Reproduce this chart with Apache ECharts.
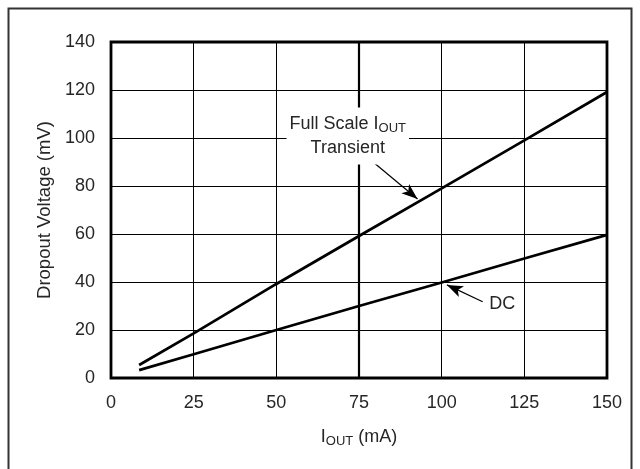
<!DOCTYPE html>
<html><head><meta charset="utf-8">
<script src="https://cdn.jsdelivr.net/npm/echarts@6/dist/echarts.min.js"></script>
<style>html,body{margin:0;padding:0;background:#fff}#c{width:640px;height:469px}</style>
</head><body><div id="c"></div>
<script>
const iout = [8.5, 25, 50, 75, 100, 125, 150];
const transient = [5.4, 18.6, 39.2, 59.2, 79, 99, 119.2];
const dc = [3.3, 9.9, 20, 30, 39.8, 49.8, 59.6];
const xTicks = [0, 25, 50, 75, 100, 125, 150];
const yTicks = [0, 20, 40, 60, 80, 100, 120, 140];
const FONT = 'Liberation Sans, Arial, sans-serif';
const TXT = '#262626';
const FS = 18;

const chart = echarts.init(document.getElementById('c'), null, {renderer: 'canvas'});
const option = {
  animation: false,
  backgroundColor: '#fff',
  textStyle: {fontFamily: FONT},
  grid: {left: 111, right: 33, top: 42, bottom: 91, show: true, borderColor: '#000', borderWidth: 2.8, backgroundColor: 'transparent'},
  graphic: [{
    type: 'rect', shape: {x: 8.5, y: 8.5, width: 623, height: 480},
    style: {fill: 'none', stroke: '#333', lineWidth: 2}, silent: true, z: 0
  }],
  xAxis: {
    type: 'value', min: xTicks[0], max: xTicks[xTicks.length - 1], interval: 25,
    axisLine: {show: false}, axisTick: {show: false},
    axisLabel: {fontSize: FS, color: TXT, margin: 16, fontFamily: FONT},
    splitLine: {show: true, lineStyle: {color: '#000', width: 1}},
    name: '{a|I}{s|OUT}{a| (mA)}', nameLocation: 'middle', nameGap: 48,
    nameTextStyle: {rich: {
      a: {fontSize: FS, color: TXT, fontFamily: FONT},
      s: {fontSize: 13, color: TXT, fontFamily: FONT, padding: [9, 0, 0, 0]}
    }}
  },
  yAxis: {
    type: 'value', min: yTicks[0], max: yTicks[yTicks.length - 1], interval: 20,
    axisLine: {show: false}, axisTick: {show: false},
    axisLabel: {fontSize: FS, color: TXT, margin: 16, fontFamily: FONT},
    splitLine: {show: true, lineStyle: {color: '#000', width: 1}},
    name: 'Dropout Voltage (mV)', nameLocation: 'middle', nameGap: 46,
    nameTextStyle: {fontSize: 18.5, color: TXT, fontFamily: FONT}
  },
  series: [
    {
      type: 'line', data: iout.map((x, i) => [x, transient[i]]), symbol: 'none',
      lineStyle: {color: '#000', width: 2.8}, z: 3, silent: true,
      markLine: {
        silent: true, symbol: ['none', 'arrow'], symbolSize: [9, 16],
        lineStyle: {color: '#000', width: 1.2, type: 'solid'}, label: {show: false},
        data: [
          [{coord: [78.8, 90.5]}, {coord: [92.7, 74.6]}],
          [{coord: [112.4, 31.8]}, {coord: [101.6, 38.8]}]
        ]
      }
    },
    {
      type: 'line', data: iout.map((x, i) => [x, dc[i]]), symbol: 'none',
      lineStyle: {color: '#000', width: 2.8}, z: 3, silent: true,
      markLine: {
        silent: true, symbol: ['none', 'none'], label: {show: false},
        lineStyle: {color: '#000', width: 2.2, type: 'solid'},
        data: [{xAxis: 75}]
      }
    },
    {
      type: 'scatter', data: [], z: 10, silent: true,
      markPoint: {
        silent: true, symbol: 'circle', symbolSize: 0,
        data: [
          {coord: [71.6, 100.8], label: {
            show: true, position: 'inside', backgroundColor: '#fff', padding: [4, 3, 5, 3],
            align: 'center', verticalAlign: 'middle',
            formatter: '{a|Full Scale I}{s|OUT}\n{a|Transient}',
            rich: {
              a: {fontSize: FS, color: TXT, fontFamily: FONT, lineHeight: 24},
              s: {fontSize: 13, color: TXT, fontFamily: FONT, padding: [9, 0, 0, 0], lineHeight: 24}
            }
          }},
          {coord: [118.3, 30.8], label: {
            show: true, position: 'inside', color: TXT, fontSize: FS, fontFamily: FONT,
            formatter: 'DC'
          }}
        ]
      }
    }
  ]
};
chart.setOption(option);
</script></body></html>
